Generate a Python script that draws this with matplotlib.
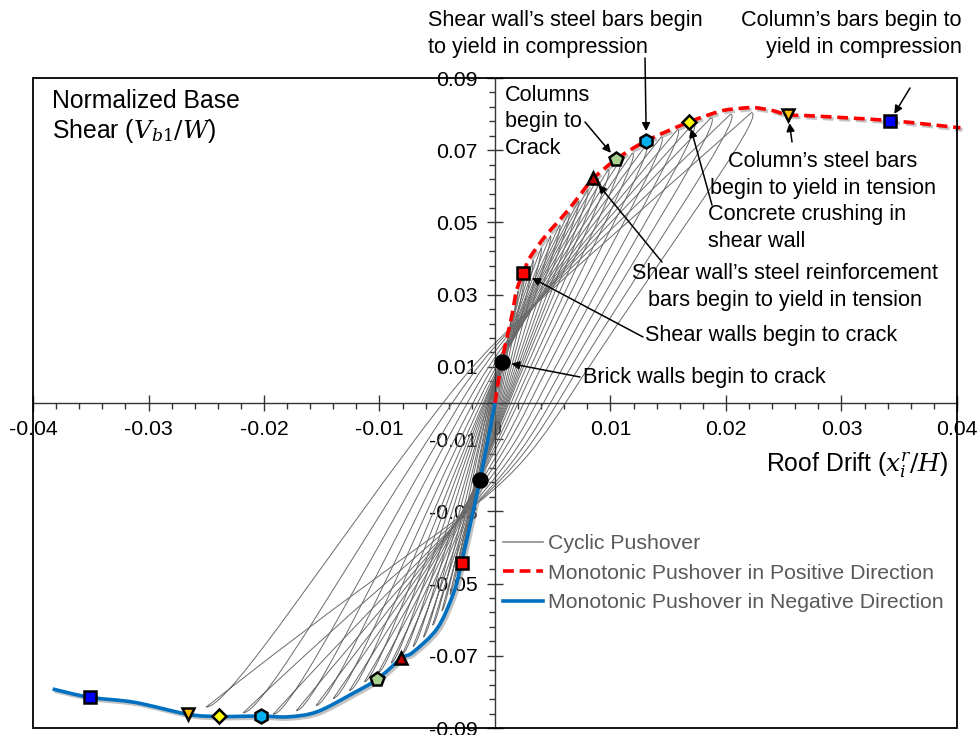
import numpy as np
import matplotlib
matplotlib.use('Agg')
import matplotlib.pyplot as plt
from matplotlib.path import Path
from matplotlib.patches import PathPatch, Rectangle
from matplotlib.lines import Line2D
import matplotlib.patheffects as pe
from matplotlib.ticker import FixedLocator, FuncFormatter

plt.rcParams['font.family'] = ['Liberation Sans', 'DejaVu Sans']
plt.rcParams['mathtext.fontset'] = 'dejavuserif'
plt.rcParams['axes.unicode_minus'] = False

FS = 15.3      # ticks / legend
FSA = 15.6     # annotations
FST = 17.8     # axis titles

# ---------------- data ----------------
# Monotonic pushover, positive direction
pos_drift = [0.0, 0.00058, 0.00144, 0.00188, 0.00245, 0.0029, 0.0036, 0.0045, 0.0056, 0.0068, 0.0079,
             0.0085, 0.0105, 0.0131, 0.0168, 0.0195, 0.0210, 0.0224, 0.0240, 0.0254, 0.0275, 0.0342, 0.0403]
pos_shear = [0.0, 0.0114, 0.0239, 0.0313, 0.0359, 0.0396, 0.0430, 0.0468, 0.0507, 0.0553, 0.0599,
             0.0622, 0.0675, 0.0726, 0.0778, 0.0808, 0.0815, 0.0818, 0.0810, 0.0798, 0.0795, 0.0782, 0.0762]
# Monotonic pushover, negative direction
neg_drift = [0.0, -0.0013, -0.0029, -0.0036, -0.0050, -0.0071, -0.0081, -0.0102, -0.0123,
             -0.0154, -0.0179, -0.0203, -0.0239, -0.0266, -0.0312, -0.0351, -0.0383]
neg_shear = [0.0, -0.0213, -0.0443, -0.0527, -0.0624, -0.0690, -0.0707, -0.0765, -0.0804,
             -0.0855, -0.0869, -0.0867, -0.0868, -0.0862, -0.0829, -0.0815, -0.0792]

# Damage events
event_markers = ['o', 's', '^', 'p', 'h', 'D', 'v', 's']
event_colors = ['#000000', '#ff0000', '#c00000', '#a9d18e', '#00b0f0', '#ffff00', '#ffc000', '#0000ff']
event_sizes = [10, 8.5, 9, 10, 10, 7, 9, 9]
pos_event_drift = [0.00058, 0.00245, 0.0085, 0.0105, 0.0131, 0.0168, 0.0254, 0.0342]
pos_event_shear = [0.0114, 0.0359, 0.0622, 0.0675, 0.0726, 0.0778, 0.0798, 0.0781]
neg_event_drift = [-0.0013, -0.0029, -0.0081, -0.0102, -0.0203, -0.0239, -0.0266, -0.0351]
neg_event_shear = [-0.0213, -0.0443, -0.0707, -0.0765, -0.0867, -0.0868, -0.0862, -0.0815]

event_texts = [
    'Brick walls begin to crack',
    'Shear walls begin to crack',
    'Shear wall\u2019s steel reinforcement\nbars begin to yield in tension',
    'Columns\nbegin to\nCrack',
    'Shear wall\u2019s steel bars begin\nto yield in compression',
    'Concrete crushing in\nshear wall',
    'Column\u2019s steel bars\nbegin to yield in tension',
    'Column\u2019s bars begin to\nyield in compression',
]

# Cyclic pushover loops: peaks and residual drifts of each cycle
cyc_pos_peak_drift = [0.0008, 0.0014, 0.0020, 0.0026, 0.0033, 0.0040, 0.0048, 0.0056, 0.0064, 0.0072, 0.0080,
                      0.0089, 0.0098, 0.0108, 0.0119, 0.0131, 0.0144, 0.0158, 0.0172, 0.0187, 0.0204, 0.0222]
cyc_pos_peak_shear = [0.0145, 0.0235, 0.0310, 0.0362, 0.0395, 0.0430, 0.0463, 0.0493, 0.0527, 0.0558, 0.0590,
                      0.0622, 0.0646, 0.0670, 0.0692, 0.0715, 0.0737, 0.0757, 0.0775, 0.0790, 0.0800, 0.0804]
cyc_neg_peak_drift = [-0.0008, -0.0013, -0.0018, -0.0023, -0.0028, -0.0033, -0.0039, -0.0046, -0.0054, -0.0062, -0.0071,
                      -0.0080, -0.0090, -0.0101, -0.0113, -0.0126, -0.0140, -0.0155, -0.0172, -0.0192, -0.0218, -0.0250]
cyc_neg_peak_shear = [-0.0120, -0.0203, -0.0283, -0.0350, -0.0420, -0.0478, -0.0530, -0.0575, -0.0615, -0.0648, -0.0674,
                      -0.0694, -0.0720, -0.0746, -0.0772, -0.0796, -0.0818, -0.0838, -0.0852, -0.0862, -0.0858, -0.0842]
cyc_pos_residual = [0.0001, 0.0002, 0.0003, 0.0004, 0.0005, 0.0006, 0.0007, 0.0008, 0.0009, 0.0010, 0.0011,
                    0.0012, 0.0014, 0.0017, 0.0020, 0.0025, 0.0030, 0.0036, 0.0042, 0.0048, 0.0054, 0.0061]
cyc_neg_residual = [0.0001, 0.0002, 0.0002, 0.0003, 0.0003, 0.0004, 0.0004, 0.0005, 0.0005, 0.0006, 0.0006,
                    0.0007, 0.0008, 0.0009, 0.0010, 0.0012, 0.0015, 0.0019, 0.0024, 0.0030, 0.0037, 0.0045]

x_ticks = [-0.04, -0.03, -0.02, -0.01, 0.0, 0.01, 0.02, 0.03, 0.04]
y_ticks = [-0.09, -0.07, -0.05, -0.03, -0.01, 0.01, 0.03, 0.05, 0.07, 0.09]


def smooth_path(xs, ys):
    """Smoothed (Catmull-Rom style) path through the given points."""
    pts = np.column_stack([xs, ys]).astype(float)
    ext = np.vstack([pts[0], pts, pts[-1]])
    verts = [pts[0]]
    codes = [Path.MOVETO]
    for i in range(len(pts) - 1):
        p0, p1, p2, p3 = ext[i], ext[i + 1], ext[i + 2], ext[i + 3]
        verts += [p1 + (p2 - p0) / 6.0, p2 - (p3 - p1) / 6.0, p2]
        codes += [Path.CURVE4] * 3
    return Path(verts, codes)


# ---------------- figure ----------------
W, H = 979, 735
fig = plt.figure(figsize=(W / 100, H / 100), dpi=100)
ax = fig.add_axes([33 / W, 1 - 728 / H, (957 - 33) / W, (728 - 78) / H])
ax.set_xlim(-0.04, 0.04)
ax.set_ylim(-0.09, 0.09)

for s in ['top', 'right']:
    ax.spines[s].set_visible(False)
ax.spines['left'].set_position(('data', 0))
ax.spines['bottom'].set_position(('data', 0))
for s in ['left', 'bottom']:
    ax.spines[s].set_linewidth(1.0)
    ax.spines[s].set_color('#333333')
ax.add_patch(Rectangle((0, 0), 1, 1, transform=ax.transAxes, fill=False,
                       ec='black', lw=1.3, clip_on=False, zorder=10))

ax.xaxis.set_major_locator(FixedLocator(x_ticks))
ax.yaxis.set_major_locator(FixedLocator(y_ticks))
ax.xaxis.set_minor_locator(FixedLocator(np.round(np.arange(-0.04, 0.0401, 0.002), 4)))
ax.yaxis.set_minor_locator(FixedLocator(np.round(np.arange(-0.09, 0.0901, 0.004), 4)))
fmt = FuncFormatter(lambda v, p: '0' if abs(v) < 1e-9 else ('%.2f' % v))
ax.xaxis.set_major_formatter(fmt)
ax.yaxis.set_major_formatter(fmt)
ax.tick_params(which='major', direction='inout', length=11, width=1, color='#333333', labelsize=FS)
ax.tick_params(which='minor', direction='out', length=4, width=1, color='#333333')
ax.tick_params(axis='x', which='major', pad=7)
ax.tick_params(axis='y', which='major', pad=7)

# cyclic loops
gray = '#6a6a6a'
for i in range(len(cyc_pos_peak_drift)):
    P = np.array([cyc_pos_peak_drift[i], cyc_pos_peak_shear[i]])
    N = np.array([cyc_neg_peak_drift[i], cyc_neg_peak_shear[i]])
    A = np.array([-cyc_neg_residual[i], 0.0])
    B = np.array([cyc_pos_residual[i], 0.0])
    Ln = A[0] - N[0]
    Lp = P[0] - B[0]
    # unloading from negative peak (rounded tip)
    n1 = N + np.array([0.10 * Ln, 0.0])
    n2 = A + (N - A) * 0.45
    # reloading towards positive peak
    C1 = A + (A - N) * (cyc_neg_residual[i] / Ln)
    qy = min(0.022, 0.55 * P[1])
    Q = np.array([qy / 14.0, qy])
    # unloading from positive peak (rounded tip)
    p1 = P + np.array([0.09 * Lp, -0.03 * Lp])
    p2 = B + (P - B) * 0.45
    # reloading towards negative peak
    D1 = B + (B - P) * (cyc_pos_residual[i] / Lp)
    qyn = min(0.026, 0.55 * abs(N[1]))
    Qn = np.array([-qyn / 13.0, -qyn])
    verts = [N, n1, n2, A, C1, Q, P, p1, p2, B, D1, Qn, N]
    codes = [Path.MOVETO] + [Path.CURVE4] * 12
    ax.add_patch(PathPatch(Path(verts, codes), fill=False, ec=gray, lw=0.7, zorder=2))

shadow = [pe.SimpleLineShadow(offset=(1.5, -1.5), shadow_color='#888888', alpha=0.5), pe.Normal()]
ax.add_patch(PathPatch(smooth_path(pos_drift, pos_shear), fill=False, ec='#ff0000', lw=2.6,
                       ls=(0, (3, 1.6)), zorder=4, path_effects=shadow, clip_on=False))
ax.add_patch(PathPatch(smooth_path(neg_drift, neg_shear), fill=False, ec='#0070c0', lw=2.6,
                       zorder=4, path_effects=shadow))

for k in range(len(event_markers)):
    for xs, ys in ((pos_event_drift, pos_event_shear), (neg_event_drift, neg_event_shear)):
        ax.plot([xs[k]], [ys[k]], ls='none', marker=event_markers[k], ms=event_sizes[k],
                mfc=event_colors[k], mec='black', mew=1.8, zorder=6)


def fp(x, y):
    return (x, H - y)


# event annotations (arrow tails in figure pixels)
tails = [(580, 377), (643, 337), (662, 262), (585, 122), (645, 58), (712, 205), (792, 142), (910, 88)]
shrinks = [7, 7, 6, 6, 7, 5, 6, 6]
for k in range(len(tails)):
    ax.annotate('', xy=(pos_event_drift[k], pos_event_shear[k]), xycoords='data',
                xytext=fp(*tails[k]), textcoords='figure pixels',
                arrowprops=dict(arrowstyle='-|>', color='black', lw=1.1, mutation_scale=12,
                                shrinkA=0, shrinkB=shrinks[k]), zorder=7)

text_pos = [((583, 378), 'left'),
            ((645, 336), 'left'),
            ((785, 287), 'center'),
            ((505, 122), 'left'),
            ((428, 34), 'left'),
            ((708, 228), 'left'),
            ((823, 175), 'center'),
            ((962, 34), 'right')]
for k, ((tx, ty), ha) in enumerate(text_pos):
    fig.text(tx / W, 1 - ty / H, event_texts[k], ha=ha, va='center', multialignment=ha,
             fontsize=FSA, linespacing=1.33, color='black')

fig.text(52 / W, 1 - 117 / H, 'Normalized Base\nShear ($V_{b1}/W$)', ha='left', va='center',
         fontsize=FST, linespacing=1.22)
fig.text(948 / W, 1 - 465 / H, 'Roof Drift ($x_i^r/H$)', ha='right', va='center', fontsize=FST)

handles = [Line2D([], [], color='#8c8c8c', lw=1.2),
           Line2D([], [], color='#ff0000', lw=2.6, ls=(0, (3, 1.6))),
           Line2D([], [], color='#0070c0', lw=2.6)]
labels = ['Cyclic Pushover', 'Monotonic Pushover in Positive Direction',
          'Monotonic Pushover in Negative Direction']
leg = fig.legend(handles, labels, loc='upper left', bbox_to_anchor=(503 / W, 1 - 534 / H),
                 frameon=False, fontsize=FS, handlelength=1.9, handletextpad=0.2,
                 labelspacing=0.5, borderpad=0, borderaxespad=0)
for t in leg.get_texts():
    t.set_color('#595959')

fig.savefig('out.png', dpi=100)
